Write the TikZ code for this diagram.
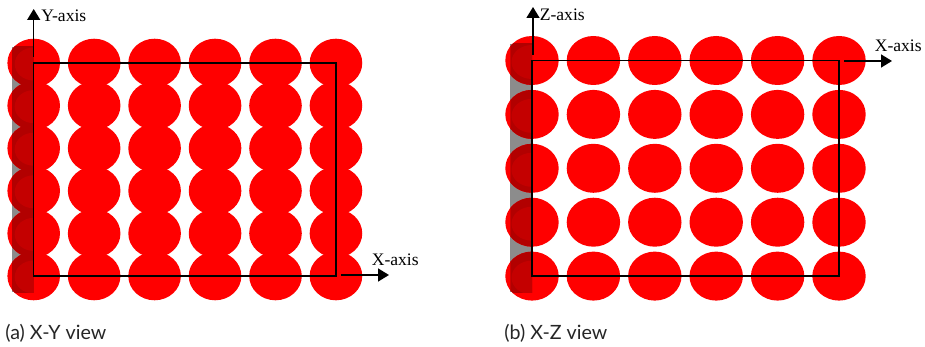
\documentclass[tikz,border=0pt]{standalone}
\usepackage{fontspec}
\setmainfont{Liberation Serif}
\newfontfamily\capfont{Lato}
\usetikzlibrary{arrows.meta}
\definecolor{cdotred}{rgb}{1.00,0.00,0.00}
\definecolor{cshade}{rgb}{0.77,0.00,0.00}
\definecolor{cshadedark}{rgb}{0.70,0.00,0.00}
\definecolor{cwall}{rgb}{0.55,0.55,0.55}
\tikzset{
  dot/.style={fill=cdotred, draw=none},
  axisline/.style={black, line width=0.9pt, -{Triangle[length=2.2mm,width=2.6mm]}},
  axislabel/.style={font=\fontsize{10pt}{12pt}\selectfont, inner sep=0pt},
  caplabel/.style={font=\capfont\fontsize{11.2pt}{13pt}\selectfont, inner sep=0pt, anchor=base west, text=black!85}
}
\begin{document}
\begin{tikzpicture}[x=0.02cm,y=-0.02cm]
  \useasboundingbox (0,0) rectangle (925,347);

  % X-Y view
  \fill[cwall] (12,47) rectangle (33.7,292);
  \foreach \col in {0,...,5}
    \foreach \row in {0,...,5}
      \fill[dot] (33.7+60.45*\col,63+42.6*\row) ellipse [x radius=26.3, y radius=24.3];
  \begin{scope}
    \clip (12,47) rectangle (33.7,292);
    \foreach \row in {0,...,5}
      \fill[cshadedark] (33.7,63+42.6*\row) ellipse [x radius=26.3, y radius=24.3];
    \foreach \row in {0,...,5}
      \fill[cshade] (33.7,64+42.6*\row) ellipse [x radius=19, y radius=16.5];
  \end{scope}
  \draw[black, line width=0.8pt] (33.7,63) rectangle (336,276);

  \coordinate (ya0) at (33.7,57);
  \coordinate (ya1) at (33.7,9);
  \node[axislabel, anchor=west] (yaxis) at (41,15.5) {Y-axis};
  \draw[axisline] (ya0) -- (ya1);
  \coordinate (xa0) at (341,275);
  \coordinate (xa1) at (389,275);
  \node[axislabel, anchor=west] (xaxis) at (371.5,260) {X-axis};
  \draw[axisline] (xa0) -- (xa1);
  \node[caplabel] (capa) at (5,339) {(a) X-Y view};

  % X-Z view
  \fill[cwall] (510.3,44) rectangle (532,292);
  \foreach \col in {0,...,5}
    \foreach \row in {0,...,4}
      \fill[dot] (532+61.4*\col,60.5+53.9*\row) ellipse [x radius=26.7, y radius=24.5];
  \begin{scope}
    \clip (510.3,44) rectangle (532,292);
    \foreach \row in {0,...,4}
      \fill[cshadedark] (532,60.5+53.9*\row) ellipse [x radius=26.7, y radius=24.5];
    \foreach \row in {0,...,4}
      \fill[cshade] (532,62+53.9*\row) ellipse [x radius=20.5, y radius=17];
  \end{scope}
  \draw[black, line width=0.8pt] (532,60.5) rectangle (839,276);

  \coordinate (za0) at (533,55);
  \coordinate (za1) at (533,7);
  \node[axislabel, anchor=west] (zaxis) at (539.5,14.5) {Z-axis};
  \draw[axisline] (za0) -- (za1);
  \coordinate (xb0) at (844,61);
  \coordinate (xb1) at (892,61);
  \node[axislabel, anchor=west] (xbxis) at (874.5,46) {X-axis};
  \draw[axisline] (xb0) -- (xb1);
  \node[caplabel] (capb) at (504,339) {(b) X-Z view};
\end{tikzpicture}
\end{document}
